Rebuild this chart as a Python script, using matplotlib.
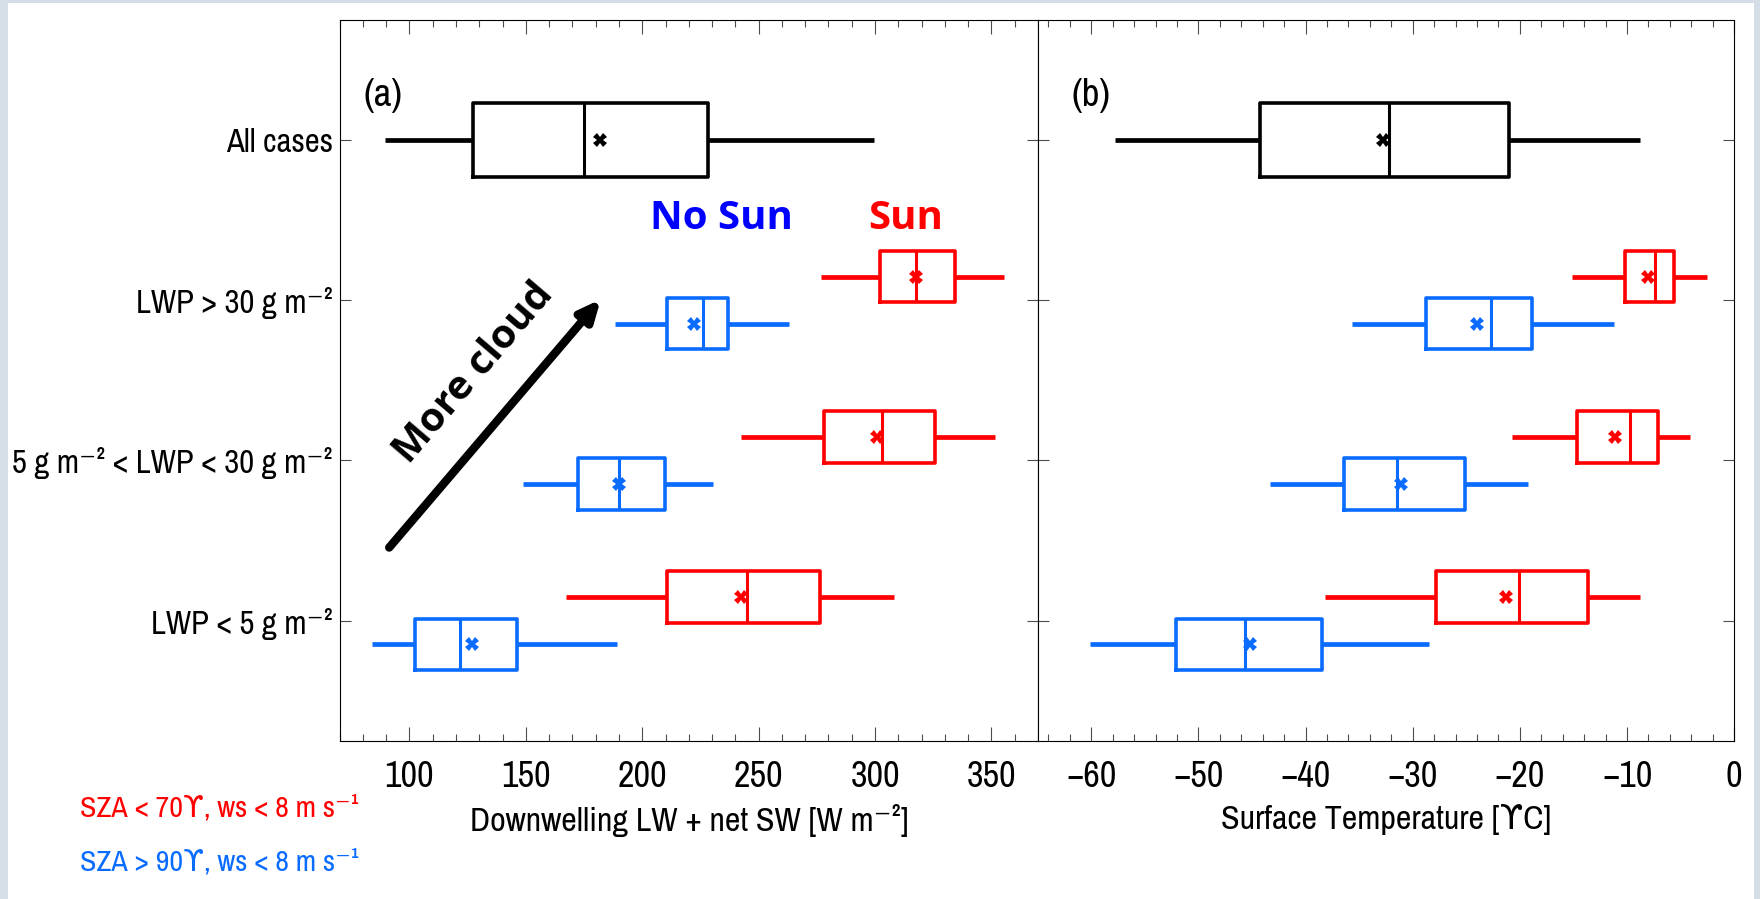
import matplotlib
matplotlib.use('Agg')
import matplotlib.pyplot as plt
from matplotlib import font_manager
from matplotlib.patches import Rectangle

# box statistics: [whisker low, q1, median, mean, q3, whisker high]
categories = ['LWP < 5 g m⁻²', '5 g m⁻² < LWP < 30 g m⁻²', 'LWP > 30 g m⁻²', 'All cases']
cat_pos = [1, 2, 3, 4]

# (a) Downwelling LW + net SW, rows in order <5, 5-30, >30
flux_all = [89.5, 127.3, 174.9, 182.0, 228.1, 299.6]
flux_sun = [
    [167.2, 210.5, 245.2, 242.4, 276.5, 308.1],
    [242.4, 278.2, 303.0, 300.7, 325.8, 351.4],
    [276.8, 302.1, 317.5, 317.5, 334.3, 355.6],
]
flux_nosun = [
    [83.8, 102.6, 121.6, 126.8, 146.4, 189.1],
    [148.7, 172.6, 190.0, 190.0, 209.9, 230.4],
    [188.5, 210.5, 226.1, 222.4, 236.7, 263.1],
]

# (b) Surface temperature
temp_all = [-57.8, -44.3, -32.2, -32.8, -21.0, -8.8]
temp_sun = [
    [-38.2, -27.8, -20.1, -21.3, -13.6, -8.8],
    [-20.7, -14.7, -9.7, -11.1, -7.1, -4.1],
    [-15.1, -10.2, -7.4, -8.0, -5.6, -2.5],
]
temp_nosun = [
    [-60.1, -52.1, -45.7, -45.2, -38.5, -28.5],
    [-43.3, -36.4, -31.5, -31.1, -25.1, -19.2],
    [-35.7, -28.8, -22.7, -24.0, -18.9, -11.2],
]

RED = '#ff0000'
BLUE = '#0a6cff'

# narrow font if one is around, else plain Liberation Sans
ttf = font_manager.fontManager.ttflist
narrow = [f.name for f in ttf if 'Narrow' in f.name or 'Condensed' in f.name]
if narrow:
    main_font = narrow[0]
    stretch = 'normal'
    scale = 1.0
elif any(f.name == 'DejaVu Sans' and f.stretch == 'condensed' for f in ttf):
    main_font = 'DejaVu Sans'
    stretch = 'condensed'
    scale = 0.9
else:
    main_font = 'Liberation Sans'
    stretch = 'normal'
    scale = 0.85

plt.rcParams['font.family'] = [main_font, 'DejaVu Sans']
plt.rcParams['font.stretch'] = stretch


def to_stats(v):
    return dict(whislo=v[0], q1=v[1], med=v[2], mean=v[3], q3=v[4], whishi=v[5])


def draw_boxes(ax, stats, positions, color, width):
    ax.bxp([to_stats(s) for s in stats], positions=positions, widths=width,
           vert=False, showcaps=False, showfliers=False, showmeans=True,
           boxprops=dict(color=color, linewidth=2.6),
           whiskerprops=dict(color=color, linewidth=3.4, solid_capstyle='butt'),
           medianprops=dict(color=color, linewidth=2.2),
           meanprops=dict(marker='X', markersize=10, markerfacecolor=color,
                          markeredgecolor=color, markeredgewidth=0))


def style_axis(ax):
    ax.tick_params(axis='both', which='both', direction='in', top=True, right=True,
                   color='0.3', width=0.8)
    ax.tick_params(axis='x', which='major', length=10, labelsize=26 * scale, pad=14)
    ax.tick_params(axis='x', which='minor', length=5)
    ax.tick_params(axis='y', which='major', length=8, labelsize=23.5 * scale, pad=5)
    for sp in ax.spines.values():
        sp.set_linewidth(0.8)


fig = plt.figure(figsize=(17.6, 8.99), dpi=100)
fig.patch.set_facecolor('#d5dde6')
fig.add_artist(Rectangle((8 / 1760, 0), 1746 / 1760, 896 / 899, transform=fig.transFigure,
                         facecolor='white', edgecolor='none', zorder=-5))

off = 0.147
ax1 = fig.add_axes([0.19295, 0.17608, 0.39682, 0.80167])
ax2 = fig.add_axes([0.5896, 0.17608, 0.39574, 0.80167])

for ax, d_all, d_sun, d_nosun in [(ax1, flux_all, flux_sun, flux_nosun),
                                  (ax2, temp_all, temp_sun, temp_nosun)]:
    draw_boxes(ax, [d_all], [cat_pos[3]], 'black', 0.46)
    draw_boxes(ax, d_sun, [p + off for p in cat_pos[:3]], RED, 0.32)
    draw_boxes(ax, d_nosun, [p - off for p in cat_pos[:3]], BLUE, 0.32)
    ax.set_ylim(0.25, 4.75)
    ax.set_yticks(cat_pos)
    style_axis(ax)

ax1.set_xlim(70, 370)
ax1.set_xticks([100, 150, 200, 250, 300, 350])
ax1.set_xticks(range(70, 371, 10), minor=True)
ax1.set_yticklabels(categories)
ax1.set_xlabel('Downwelling LW + net SW [W m⁻²]', fontsize=24.5 * scale, labelpad=8)

ax2.set_xlim(-65, 0)
ax2.set_xticks(range(-60, 1, 10))
ax2.set_xticks(range(-64, 1, 2), minor=True)
ax2.set_yticklabels([])
ax2.set_xlabel('Surface Temperature [ϒC]', fontsize=24.5 * scale, labelpad=8)

ax1.text(80.2, 4.28, '(a)', fontsize=28 * scale, ha='left', va='center')
ax2.text(-61.8, 4.28, '(b)', fontsize=28 * scale, ha='left', va='center')

ax1.annotate('', xy=(182.2, 3.006), xytext=(91.3, 1.456),
             arrowprops=dict(arrowstyle='-|>,head_length=1.2,head_width=0.55',
                             color='black', linewidth=6, shrinkA=0, shrinkB=0))
ax1.text(127.4, 2.544, 'More cloud', rotation=49.5, rotation_mode='anchor',
         ha='center', va='center', fontsize=29, fontweight='bold', family='Open Sans',
         stretch='normal')
ax1.text(234.2, 3.51, 'No Sun', color='#0000ff', fontsize=29, fontweight='bold',
         family='Open Sans', stretch='normal', ha='center', va='center')
ax1.text(313.2, 3.51, 'Sun', color=RED, fontsize=29, fontweight='bold',
         family='Open Sans', stretch='normal', ha='center', va='center')

fig.text(80 / 1760, 0.1012, 'SZA < 70ϒ, ws < 8 m s⁻¹', color=RED, fontsize=21.5 * scale,
         ha='left', va='center')
fig.text(80 / 1760, 0.0412, 'SZA > 90ϒ, ws < 8 m s⁻¹', color=BLUE, fontsize=21.5 * scale,
         ha='left', va='center')

fig.savefig('out.png', dpi=100)
